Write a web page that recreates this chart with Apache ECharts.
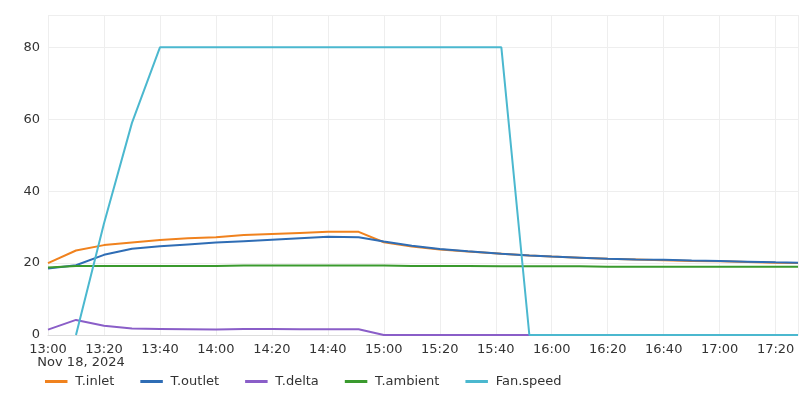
<!DOCTYPE html>
<html><head><meta charset="utf-8">
<script src="https://cdn.jsdelivr.net/npm/echarts@6/dist/echarts.min.js"></script>
<style>html,body{margin:0;padding:0;background:#fff}#c{width:800px;height:401px}</style>
</head><body><div id="c"></div>
<script>
const times = ['13:00','13:10','13:20','13:30','13:40','13:50','14:00','14:10','14:20','14:30','14:40','14:51','15:00','15:10','15:20','15:30','15:42','15:52','16:00','16:10','16:20','16:30','16:40','16:50','17:00','17:10','17:20','17:28'];
const inlet   = [20,23.5,25,25.7,26.4,26.9,27.2,27.8,28.1,28.4,28.7,28.7,25.8,24.6,23.8,23.2,22.6,22.1,21.8,21.5,21.2,21,20.8,20.6,20.5,20.3,20.1,20];
const outlet  = [18.5,19.4,22.3,24,24.7,25.2,25.7,26.1,26.5,26.9,27.3,27.2,26,24.8,23.9,23.3,22.6,22.1,21.8,21.5,21.2,21,20.9,20.7,20.6,20.4,20.2,20.1];
const delta   = [1.5,4.2,2.6,1.8,1.7,1.6,1.5,1.7,1.7,1.6,1.6,1.6,0,0,0,0,0,0,0,0,0,0,0,0,0,0,0,0];
const ambient = [18.8,19.2,19.2,19.2,19.2,19.2,19.2,19.3,19.3,19.3,19.3,19.3,19.3,19.2,19.2,19.2,19.1,19.1,19.1,19.1,19,19,19,19,19,19,19,19];
const fan     = [null,0,31,59,80,80,80,80,80,80,80,80,80,80,80,80,80,0,0,0,0,0,0,0,0,0,0,0];
const names = ['T.inlet','T.outlet','T.delta','T.ambient','Fan.speed'];
const colors = ['#f0821e','#2f6db5','#8a5ec8','#3a9a2e','#4bb8cf'];
const data = [inlet,outlet,delta,ambient,fan];
const t = s => '2024-11-18 ' + s + ':00';
const chart = echarts.init(document.getElementById('c'));
const H = 30*60*1000;
chart.setOption({
  animation:false,
  color:colors,
  grid:{left:48,right:2,top:15,bottom:66,containLabel:false,outerBoundsMode:'none'},
  legend:{bottom:8,left:40,icon:'path://M0,0H30V4H0Z',itemWidth:28,itemHeight:3,itemGap:26,
    textStyle:{fontFamily:'DejaVu Sans',fontSize:13,color:'#333'},data:names},
  xAxis:{type:'time',min:t('13:00'),max:t('17:28'),interval:H,minInterval:H,maxInterval:H,splitNumber:9,
    axisLine:{show:true,lineStyle:{color:'#ddd'}},axisTick:{show:false},
    splitLine:{show:true,lineStyle:{color:'#eee'}},
    axisLabel:{fontFamily:'DejaVu Sans',fontSize:13,color:'#333',showMaxLabel:false,hideOverlap:false,
      formatter:function(v){const d=new Date(v);const s=String(d.getHours()).padStart(2,'0')+':'+String(d.getMinutes()).padStart(2,'0');
        return s==='13:00'?s+'\n\u00a0\u00a0\u00a0\u00a0\u00a0\u00a0\u00a0\u00a0\u00a0\u00a0\u00a0\u00a0\u00a0\u00a0\u00a0\u00a0Nov 18, 2024':s;}}},
  yAxis:{type:'value',min:0,max:89,interval:20,
    axisLabel:{fontFamily:'DejaVu Sans',fontSize:13,color:'#333',showMaxLabel:false},
    splitLine:{lineStyle:{color:'#eee'}}},
  series:names.map((n,i)=>({name:n,type:'line',showSymbol:false,lineStyle:{width:2},
    data:times.map((s,j)=>[t(s),data[i][j]]).filter(p=>p[1]!==null)}))
});
</script></body></html>
